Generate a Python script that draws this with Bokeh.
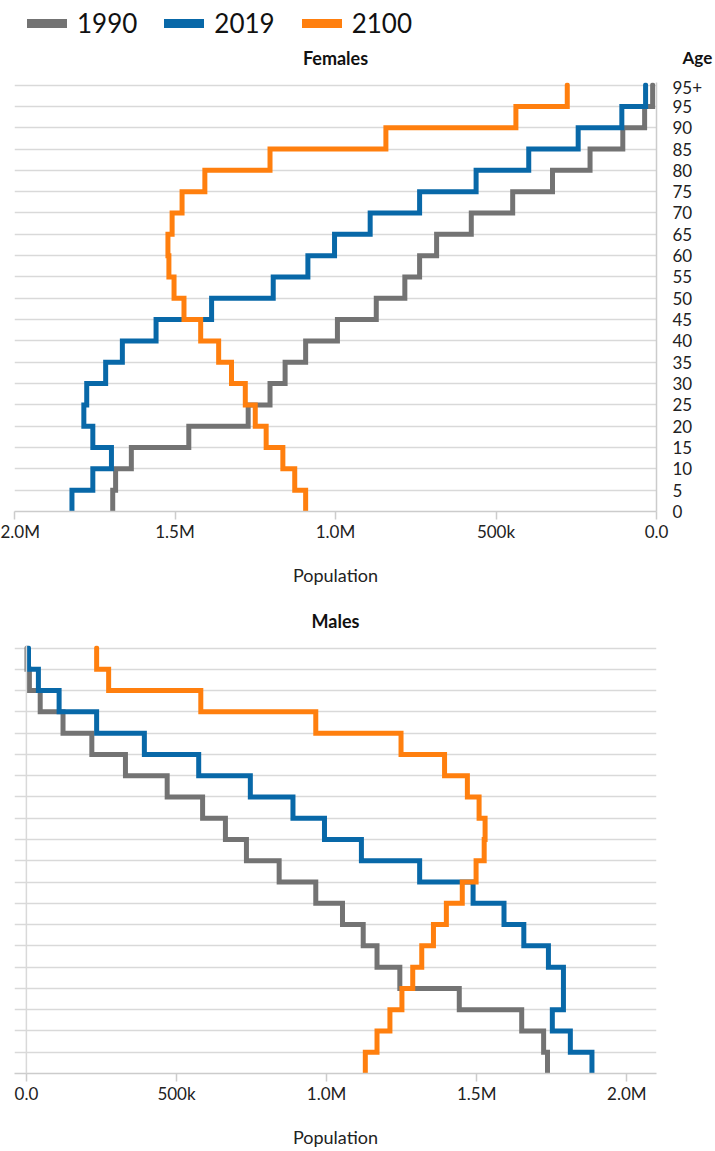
from bokeh.plotting import figure
from bokeh.models import (Range1d, FixedTicker, CustomJSTickFormatter, Legend,
                          LegendItem, Span, Label, ColumnDataSource)
from bokeh.layouts import column
from bokeh.embed import file_html
from bokeh.resources import INLINE

# ---------------- data (population in millions) ----------------
age_labels = ["0", "5", "10", "15", "20", "25", "30", "35", "40", "45", "50",
              "55", "60", "65", "70", "75", "80", "85", "90", "95", "95+"]
years = ["1990", "2019", "2100"]

female_1990 = [1.694, 1.685, 1.636, 1.457, 1.272, 1.204, 1.157, 1.093, 0.994, 0.873,
               0.784, 0.738, 0.685, 0.577, 0.448, 0.324, 0.207, 0.105, 0.037, 0.012]
female_2019 = [1.821, 1.756, 1.698, 1.756, 1.784, 1.775, 1.716, 1.664, 1.559, 1.386,
               1.194, 1.086, 1.003, 0.892, 0.738, 0.562, 0.398, 0.244, 0.108, 0.034]
female_2100 = [1.093, 1.127, 1.164, 1.216, 1.250, 1.281, 1.324, 1.364, 1.420, 1.472,
               1.503, 1.519, 1.522, 1.509, 1.478, 1.407, 1.204, 0.843, 0.438, 0.278]

male_1990 = [1.736, 1.723, 1.650, 1.442, 1.244, 1.168, 1.122, 1.053, 0.964, 0.842,
             0.733, 0.663, 0.587, 0.469, 0.330, 0.218, 0.122, 0.046, 0.010, 0.002]
male_2019 = [1.884, 1.812, 1.752, 1.789, 1.789, 1.739, 1.657, 1.591, 1.488, 1.310,
             1.116, 0.993, 0.888, 0.746, 0.574, 0.393, 0.234, 0.109, 0.040, 0.007]
male_2100 = [1.129, 1.168, 1.211, 1.251, 1.287, 1.317, 1.356, 1.399, 1.452, 1.498,
             1.525, 1.528, 1.508, 1.469, 1.393, 1.248, 0.964, 0.581, 0.274, 0.234]

colors = {"1990": "#737373", "2019": "#0868a8", "2100": "#ff7f0e"}
FONT = "Lato"
GRID = "#d9d9d9"
AXIS = "#cccccc"
TXT = "#222222"
W = 715
BL, BR = 14, 53      # frame borders shared by every panel of the column

females = {"1990": female_1990, "2019": female_2019, "2100": female_2100}
males = {"1990": male_1990, "2019": male_2019, "2100": male_2100}


def step_source(values):
    xs, ys = [], []
    for i, v in enumerate(values):
        xs += [v * 1e6, v * 1e6]
        ys += [i, i + 1]
    return ColumnDataSource(dict(x=xs, y=ys))


fmt = CustomJSTickFormatter(code="""
if (tick == 0) return "0.0";
if (Math.abs(tick) < 1e6) return (tick/1000).toFixed(0) + "k";
return (tick/1e6).toFixed(1) + "M";
""")
xticks = [0, 5e5, 1e6, 1.5e6, 2e6]
yticks = list(range(len(age_labels)))


def style(p):
    p.outline_line_color = None
    p.xgrid.visible = False
    p.ygrid.ticker = FixedTicker(ticks=yticks)
    p.ygrid.grid_line_color = GRID
    p.ygrid.grid_line_width = 1.5
    ax = p.xaxis[0]
    ax.ticker = FixedTicker(ticks=xticks)
    ax.formatter = fmt
    ax.axis_label = "Population"
    ax.axis_label_text_font = FONT
    ax.axis_label_text_font_style = "normal"
    ax.axis_label_text_font_size = "18px"
    ax.axis_label_text_color = TXT
    ax.axis_label_standoff = 19
    ax.major_label_text_font = FONT
    ax.major_label_text_font_size = "17px"
    ax.major_label_text_color = TXT
    ax.major_label_standoff = 1
    ax.axis_line_color = AXIS
    ax.axis_line_width = 1.5
    ax.major_tick_line_color = AXIS
    ax.major_tick_line_width = 1.5
    ax.major_tick_out = 8
    ax.major_tick_in = 0
    ax.minor_tick_line_color = None


def header(height, yaxis=None):
    h = figure(width=W, height=height,
               x_range=Range1d(BL, W - BR), y_range=Range1d(height, 0),
               x_axis_location=None, y_axis_location=yaxis,
               output_backend="svg", toolbar_location=None,
               min_border_left=BL, min_border_right=BR, min_border_top=0,
               min_border_bottom=0)
    h.outline_line_color = None
    h.grid.visible = False
    return h


def heading(text, x, y):
    return Label(x=x, y=y, text=text, text_align="center", text_baseline="middle",
                 text_font=FONT, text_font_size="18px", text_font_style="bold",
                 text_color="#111111")


female_sources = {yr: step_source(females[yr]) for yr in years}

# ---------------- header: legend, panel title, age-axis title ----------------
head = header(80, yaxis="right")
legend_items = []
for yr in years:
    r = head.line("x", "y", source=female_sources[yr], line_color=colors[yr],
                  line_width=9, line_cap="round")
    legend_items.append(LegendItem(label=yr, renderers=[r]))
legend = Legend(items=legend_items, orientation="horizontal", location=(13, 41),
                label_text_font=FONT, label_text_font_size="26px",
                label_text_color="#111111", glyph_width=40, glyph_height=30,
                label_height=30, label_standoff=10, spacing=27, padding=0,
                margin=0, border_line_color=None, background_fill_alpha=0)
head.add_layout(legend)
head.add_layout(heading("Females", 338, 57))
hy = head.yaxis[0]
hy.ticker = FixedTicker(ticks=[57])
hy.major_label_overrides = {57: "Age"}
hy.major_label_text_font = FONT
hy.major_label_text_font_size = "17px"
hy.major_label_text_font_style = "bold"
hy.major_label_text_color = "#111111"
hy.major_label_standoff = 20
hy.axis_line_color = None
hy.major_tick_line_color = None
hy.minor_tick_line_color = None

# ---------------- Females (top) ----------------
top = figure(width=W, height=518, title=None,
             x_range=Range1d(2e6, 0), y_range=Range1d(0, 20.12),
             y_axis_location="right", output_backend="svg", toolbar_location=None,
             min_border_left=BL, min_border_right=BR, min_border_top=2,
             min_border_bottom=87)
style(top)
yax = top.yaxis[0]
yax.ticker = FixedTicker(ticks=yticks)
yax.major_label_overrides = {i: lab for i, lab in enumerate(age_labels)}
yax.major_label_text_font = FONT
yax.major_label_text_font_size = "17px"
yax.major_label_text_color = TXT
yax.major_label_standoff = 16
yax.major_tick_out = 0
yax.major_tick_in = 0
yax.minor_tick_line_color = None
yax.axis_line_color = AXIS
yax.axis_line_width = 1.5

for yr in years:
    top.line("x", "y", source=female_sources[yr], line_color=colors[yr],
             line_width=5, line_cap="round", line_join="miter")

# ---------------- Males heading ----------------
head2 = header(47)
head2.add_layout(heading("Males", 338, 22))

# ---------------- Males (bottom) ----------------
bot = figure(width=W, height=506, title=None,
             x_range=Range1d(-0.0396e6, 2.099e6), y_range=Range1d(0, 20.12),
             output_backend="svg", toolbar_location=None,
             min_border_left=BL, min_border_right=BR, min_border_top=0,
             min_border_bottom=78)
style(bot)
bot.yaxis.visible = False
bot.add_layout(Span(location=0, dimension="height", line_color=GRID, line_width=1.5))

for yr in years:
    bot.line("x", "y", source=step_source(males[yr]), line_color=colors[yr],
             line_width=5, line_cap="round", line_join="miter")

layout = column(head, top, head2, bot, spacing=0)
open("out.html", "w").write(file_html(layout, INLINE))
